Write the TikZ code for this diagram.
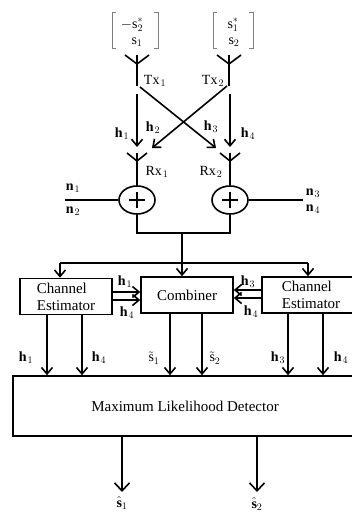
\documentclass[tikz,border=0pt]{standalone}
\usepackage{fontspec}
\setmainfont{Liberation Serif}
\usetikzlibrary{arrows.meta,shapes.geometric}
\newcommand\hh[1]{$\mathbf{h}_{\kern1pt #1}$}
\newcommand\nn[1]{$\mathbf{n}_{\kern1pt #1}$}
\begin{document}
\begin{tikzpicture}[x=1pt,y=-1pt,line width=1.6pt,
  arr/.style={-{Straight Barb[length=6.5pt,width=11pt]}},
  bigarr/.style={-{Straight Barb[length=8pt,width=15pt]}},
  lab/.style={font=\fontsize{14}{16}\selectfont,inner sep=0pt},
  blk/.style={draw,minimum height=36pt,inner sep=2pt,font=\fontsize{15}{17}\selectfont},
  adder/.style={draw,ellipse,minimum width=36pt,minimum height=28pt,inner sep=0pt},
  brk/.style={draw=gray,line width=0.8pt}]
\clip (0,0) rectangle (352,513);
% input vectors
\node[lab] (m1a) at (132,25) {$-\mathrm{s}_2^{*}$};
\node[lab] (m1b) at (137,42) {$\mathrm{s}_1$};
\node[lab] (m2a) at (233,25) {$\mathrm{s}_1^{*}$};
\node[lab] (m2b) at (234,42) {$\mathrm{s}_2$};
\draw[brk] (116,12) -- (112,12) -- (112,48) -- (116,48);
\draw[brk] (154,12) -- (158,12) -- (158,48) -- (154,48);
\draw[brk] (217,12) -- (213,12) -- (213,48) -- (217,48);
\draw[brk] (249,12) -- (253,12) -- (253,48) -- (249,48);
% transmit antennas
\coordinate (t1t) at (137,55); \coordinate (t1j) at (137,64); \coordinate (t1b) at (137,86);
\coordinate (t2t) at (229,55); \coordinate (t2j) at (229,64); \coordinate (t2b) at (229,86);
\draw (t1t) -- (t1b);
\draw ([xshift=-12pt]t1t) -- (t1j) -- ([xshift=12pt]t1t);
\draw (t2t) -- (t2b);
\draw ([xshift=-12pt]t2t) -- (t2j) -- ([xshift=12pt]t2t);
\node[lab] (tx1) at (155,81) {Tx$_{\kern1pt 1}$};
\node[lab] (tx2) at (213,81) {Tx$_{\kern1pt 2}$};
% channels
\coordinate (a1s) at (137,94); \coordinate (a1e) at (137,147);
\coordinate (a4s) at (230,94); \coordinate (a4e) at (230,147);
\coordinate (x1s) at (140,87); \coordinate (x1e) at (216,148);
\coordinate (x2s) at (227,86); \coordinate (x2e) at (152,148);
\draw[arr] (a1s) -- (a1e);
\draw[arr] (a4s) -- (a4e);
\draw[arr] (x1s) -- (x1e);
\draw[arr] (x2s) -- (x2e);
\node[lab] (lh1) at (122,134) {\hh1};
\node[lab] (lh2) at (153,128) {\hh2};
\node[lab] (lh3) at (211,127) {\hh3};
\node[lab] (lh4) at (248,134) {\hh4};
% receive antennas and adders
\node[adder] (c1) at (137,200) {};
\node[adder] (c2) at (230,200) {};
\coordinate (r1t) at (137,153); \coordinate (r1j) at (137,161);
\coordinate (r2t) at (230,153); \coordinate (r2j) at (230,161);
\draw (r1t) -- (c1.north);
\draw ([xshift=-10pt]r1t) -- (r1j) -- ([xshift=10pt]r1t);
\draw (r2t) -- (c2.north);
\draw ([xshift=-10pt]r2t) -- (r2j) -- ([xshift=10pt]r2t);
\node[lab] (rx1) at (157,172) {Rx$_{\kern1pt 1}$};
\node[lab] (rx2) at (211,172) {Rx$_{\kern1pt 2}$};
\draw ([xshift=-8pt]c1.center) -- ([xshift=8pt]c1.center);
\draw ([yshift=-8pt]c1.center) -- ([yshift=8pt]c1.center);
\draw ([xshift=-8pt]c2.center) -- ([xshift=8pt]c2.center);
\draw ([yshift=-8pt]c2.center) -- ([yshift=8pt]c2.center);
% noise
\coordinate (nl) at (65,200); \coordinate (nr) at (303,200);
\draw (nl) -- (c1.west);
\draw (c2.east) -- (nr);
\node[lab] (n1) at (73,188) {\nn1};
\node[lab] (n2) at (73,211) {\nn2};
\node[lab] (n3) at (313,193) {\nn3};
\node[lab] (n4) at (313,209) {\nn4};
% blocks
\node[blk,minimum width=92pt,align=left] (ce1) at (66,296.5) {Channel\\Estimator};
\node[blk,minimum width=92pt] (comb) at (187,295) {Combiner};
\node[blk,minimum width=98pt,align=left] (ce2) at (311,295) {Channel\\Estimator};
\node[draw,minimum width=344pt,minimum height=60pt,font=\fontsize{15}{17}\selectfont] (mld) at (185,406) {Maximum Likelihood Detector};
% combining network
\coordinate (jn) at (182,233);
\coordinate (sp) at (182,263);
\coordinate (hl) at (60,263);
\coordinate (hr) at (308,263);
\draw (c1.south) |- (jn) -| (c2.south);
\draw (jn) -- (sp);
\draw[arr] (sp) -- (comb.north -| sp);
\draw (hl) -- (hr);
\draw[arr] (hl) -- (ce1.north -| hl);
\draw[arr] (hr) -- (ce2.north -| hr);
% estimator -> combiner
\coordinate (ya) at (0,292); \coordinate (yb) at (0,300);
\coordinate (yc) at (0,290); \coordinate (yd) at (0,298);
\draw[arr] (ce1.east |- ya) -- (comb.west |- ya);
\draw[arr] (ce1.east |- yb) -- (comb.west |- yb);
\draw[arr] (ce2.west |- yc) -- (comb.east |- yc);
\draw[arr] (ce2.west |- yd) -- (comb.east |- yd);
\node[lab] (lh1b) at (125,282) {\hh1};
\node[lab] (lh4b) at (127,313) {\hh4};
\node[lab] (lh3b) at (248,282) {\hh3};
\node[lab] (lh4c) at (251,312) {\hh4};
% to detector
\coordinate (x47) at (47,0); \coordinate (x82) at (82,0);
\coordinate (x170) at (170,0); \coordinate (x202) at (202,0);
\coordinate (x288) at (288,0); \coordinate (x323) at (323,0);
\draw[arr] (ce1.south -| x47) -- (mld.north -| x47);
\draw[arr] (ce1.south -| x82) -- (mld.north -| x82);
\draw[arr] (comb.south -| x170) -- (mld.north -| x170);
\draw[arr] (comb.south -| x202) -- (mld.north -| x202);
\draw[arr] (ce2.south -| x288) -- (mld.north -| x288);
\draw[arr] (ce2.south -| x323) -- (mld.north -| x323);
\node[lab] (b1) at (26,358) {\hh1};
\node[lab] (b2) at (99,358) {\hh4};
\node[lab] (b3) at (154,358) {$\tilde{\mathrm{s}}_1$};
\node[lab] (b4) at (215,358) {$\tilde{\mathrm{s}}_2$};
\node[lab] (b5) at (278,358) {\hh3};
\node[lab] (b6) at (341,358) {\hh4};
% outputs
\coordinate (o1) at (122,492); \coordinate (o2) at (257,492);
\draw[bigarr] (mld.south -| o1) -- (o1);
\draw[bigarr] (mld.south -| o2) -- (o2);
\node[lab] (s1h) at (122,503) {$\hat{\mathbf{s}}_1$};
\node[lab] (s2h) at (257,504) {$\hat{\mathbf{s}}_2$};
\end{tikzpicture}
\end{document}
